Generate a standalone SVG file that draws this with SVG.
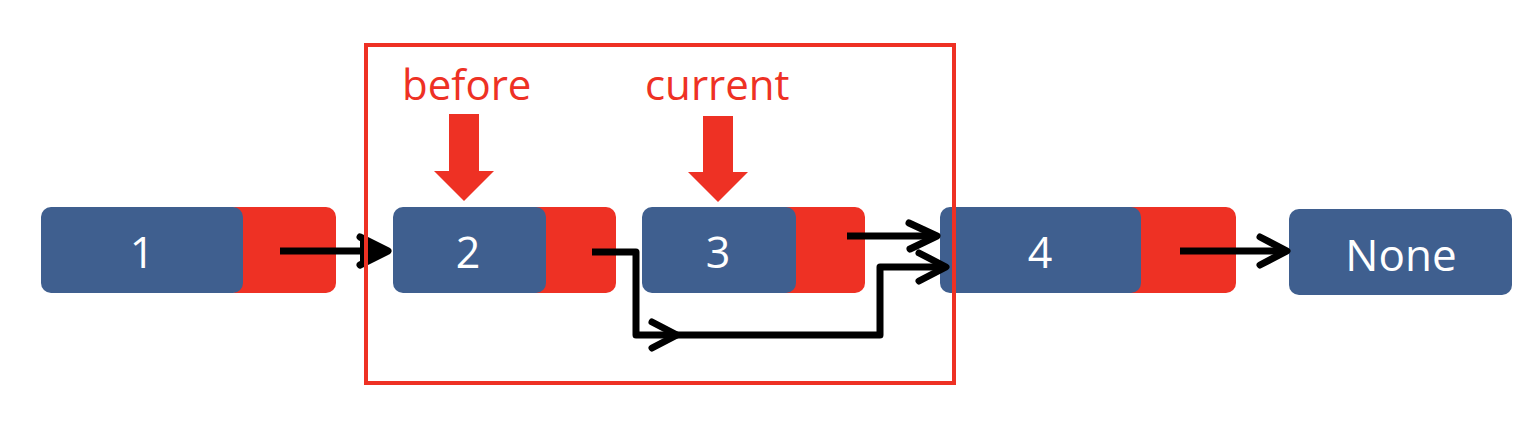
<svg xmlns="http://www.w3.org/2000/svg" width="1534" height="432" viewBox="0 0 1534 432">
<style>
.blue{fill:#3F5F8F}
.red{fill:#EE3124}
.lbl{font-family:"Open Sans","Noto Sans",sans-serif;font-size:43px;fill:#FFFFFF;text-anchor:middle}
.ptr{font-family:"Open Sans","Noto Sans",sans-serif;font-size:42px;fill:#EE3124}
.ln{fill:none;stroke:#000000;stroke-width:7;stroke-linejoin:round}
.hd{fill:none;stroke:#000000;stroke-width:7;stroke-linecap:round;stroke-linejoin:round}
</style>
<rect width="1534" height="432" fill="#FFFFFF"/>
<g id="node1">
<rect class="red" x="225" y="207" width="111" height="86" rx="10"/>
<rect class="blue" x="41" y="207" width="202" height="86" rx="10"/>
<text class="lbl" x="142" y="268">1</text>
</g>
<g id="node2">
<rect class="red" x="525" y="207" width="91" height="86" rx="10"/>
<rect class="blue" x="393" y="207" width="153" height="86" rx="10"/>
<text class="lbl" x="468" y="268">2</text>
</g>
<g id="node3">
<rect class="red" x="775" y="207" width="90" height="86" rx="10"/>
<rect class="blue" x="642" y="207" width="154" height="86" rx="10"/>
<text class="lbl" x="718" y="268">3</text>
</g>
<g id="node4">
<rect class="red" x="1120" y="207" width="116" height="86" rx="10"/>
<rect class="blue" x="940" y="207" width="201" height="86" rx="10"/>
<text class="lbl" x="1040" y="268">4</text>
</g>
<g id="none">
<rect class="blue" x="1289" y="209" width="223" height="86" rx="10"/>
<text class="lbl" x="1401" y="271" style="font-size:44px">None</text>
</g>
<g id="before">
<text class="ptr" x="402" y="100">before</text>
<polygon class="red" points="449,114 479,114 479,171 494,171 464,201 434,171 449,171"/>
</g>
<g id="current">
<text class="ptr" x="645" y="100">current</text>
<polygon class="red" points="703,116 733,116 733,172 748,172 718,202 688,172 703,172"/>
</g>
<g id="connectors">
<path class="ln" d="M280,251 H386"/>
<path class="hd" d="M360,237 L388,251 L360,265" style="fill:#000"/>
<path class="ln" d="M592,252 H636 V335 H880 V267 H945"/>
<path class="hd" d="M652,322 L677,335 L652,348"/>
<path class="hd" d="M919,253 L946,267 L919,281"/>
<path class="ln" d="M847,236 H936"/>
<path class="hd" d="M909,223 L937,236 L910,249"/>
<path class="ln" d="M1180,251 H1286"/>
<path class="hd" d="M1260,237 L1287,251 L1260,265"/>
</g>
<g id="frame">
<rect x="366" y="45" width="588" height="338" fill="none" stroke="#EE3124" stroke-width="4"/>
</g>
</svg>
